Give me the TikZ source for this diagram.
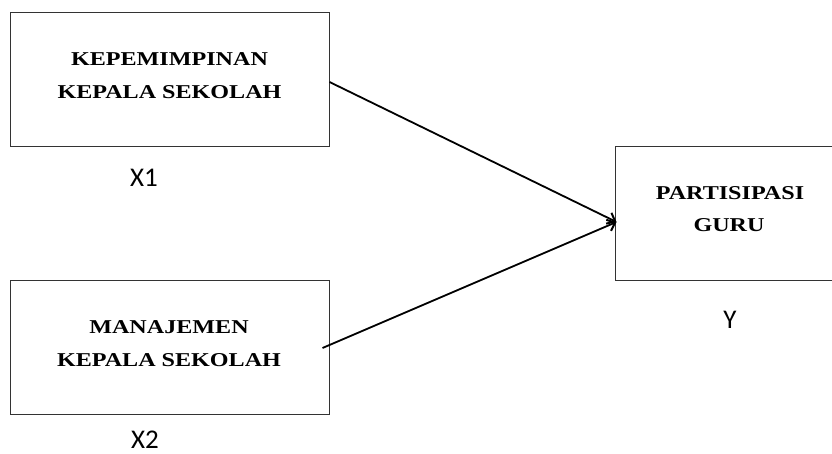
\documentclass[tikz,border=0pt]{standalone}
\usepackage{fontspec}
\newfontfamily\boxfont[FakeStretch=1.23]{Liberation Serif}
\newfontfamily\labfont{Carlito}
\usetikzlibrary{arrows.meta,calc}
\begin{document}
\begin{tikzpicture}[x=1pt,y=1pt,
  box/.style={draw=black!80,line width=1pt,minimum width=319pt,minimum height=134pt,inner sep=0pt},
  boxtxt/.style={anchor=base,inner sep=0pt,font=\boxfont\bfseries\fontsize{19.6}{20}\selectfont},
  lab/.style={anchor=base,inner sep=0pt,font=\labfont\fontsize{27}{28}\selectfont},
  conn/.style={line width=1.8pt,-{Straight Barb[length=7pt,width=12pt,line width=2pt]}}]
\useasboundingbox (0,0) rectangle (832,454);
\clip (0,0) rectangle (832,454);
\fill[white] (0,0) rectangle (832,454);
\node[box] (k) at (169.5,374) {};
\node[box] (m) at (169.5,106) {};
\node[box,minimum width=235pt] (p) at (732.5,240) {};
\node[boxtxt] (k1) at (169.5,388) {KEPEMIMPINAN};
\node[boxtxt] (k2) at (169.5,355) {KEPALA SEKOLAH};
\node[boxtxt] (m1) at (169,120) {MANAJEMEN};
\node[boxtxt] (m2) at (169,87) {KEPALA SEKOLAH};
\node[boxtxt] (p1) at (730,254) {PARTISIPASI};
\node[boxtxt] (p2) at (729,222) {GURU};
\node[lab] (x1) at (144,267) {X1};
\node[lab] (x2) at (145,5) {X2};
\node[lab] (y) at (730,125) {Y};
\coordinate (tip) at ($(p.west)+(2,-8)$);
\draw[conn] ($(k.east)+(0,-2)$) -- (tip);
\draw[conn] ($(m.east)+(-7,0)$) -- (tip);
\end{tikzpicture}
\end{document}
